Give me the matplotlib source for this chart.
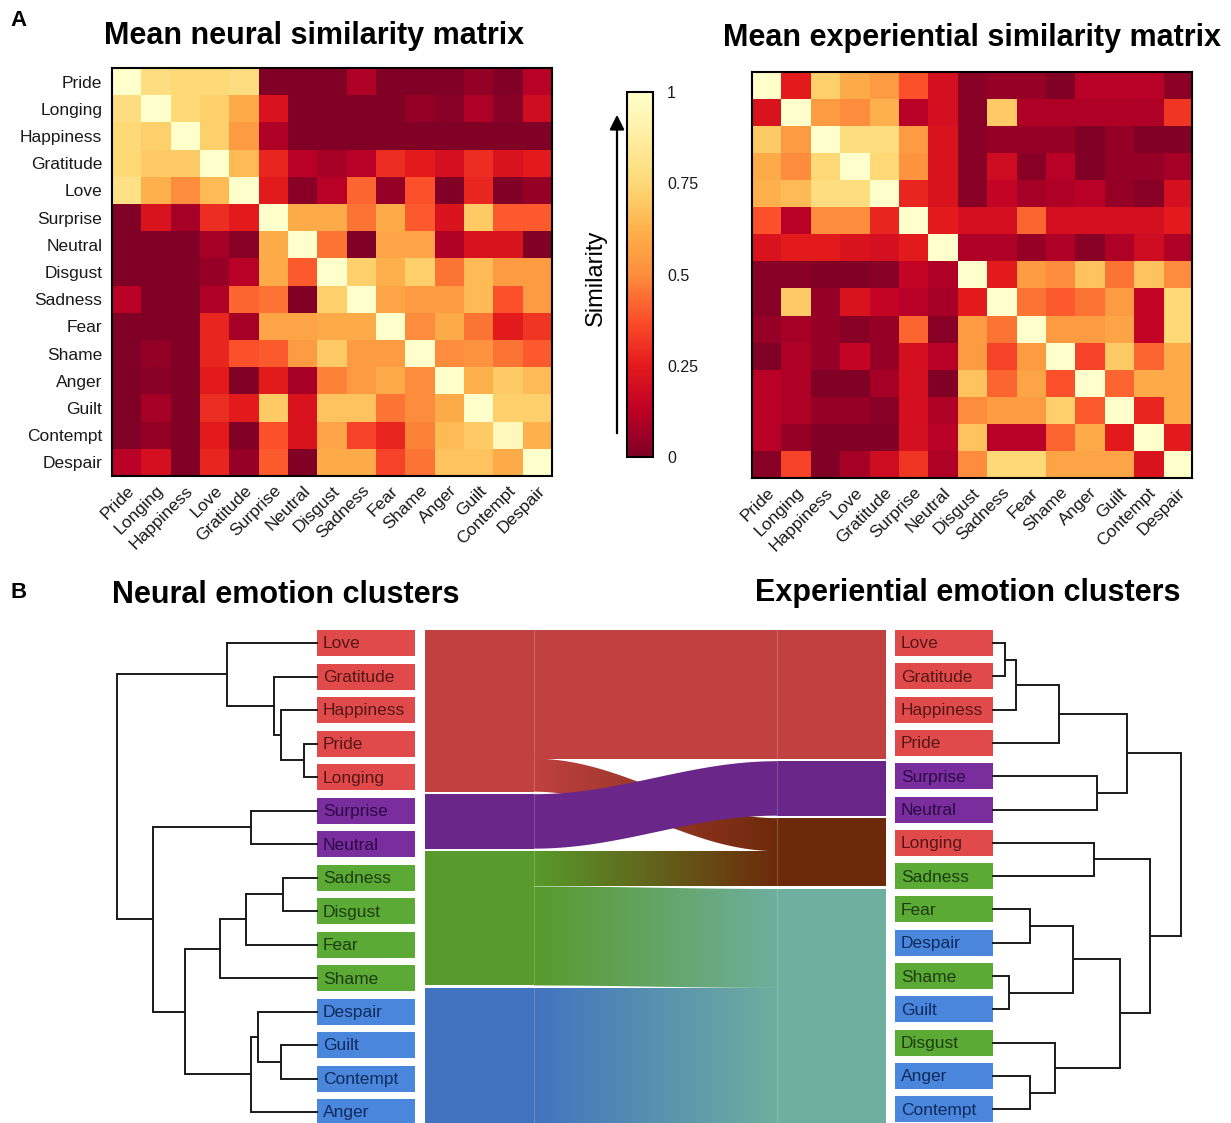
import numpy as np
import matplotlib
matplotlib.use('Agg')
import matplotlib.pyplot as plt
from matplotlib.patches import Rectangle, Polygon
from matplotlib.colors import to_rgb

plt.rcParams['font.family'] = ['Liberation Sans', 'DejaVu Sans']

W, H = 1231, 1123

# ---- panel A data ----
row_labels = ['Pride', 'Longing', 'Happiness', 'Gratitude', 'Love', 'Surprise', 'Neutral',
              'Disgust', 'Sadness', 'Fear', 'Shame', 'Anger', 'Guilt', 'Contempt', 'Despair']
col_labels = ['Pride', 'Longing', 'Happiness', 'Love', 'Gratitude', 'Surprise', 'Neutral',
              'Disgust', 'Sadness', 'Fear', 'Shame', 'Anger', 'Guilt', 'Contempt', 'Despair']

neural = np.array([
    [1.00, 0.78, 0.75, 0.75, 0.78, 0.00, 0.00, 0.00, 0.10, 0.00, 0.00, 0.00, 0.04, 0.00, 0.12],
    [0.78, 1.00, 0.75, 0.72, 0.60, 0.22, 0.00, 0.00, 0.00, 0.00, 0.05, 0.02, 0.10, 0.02, 0.18],
    [0.75, 0.72, 1.00, 0.72, 0.55, 0.10, 0.00, 0.00, 0.00, 0.00, 0.00, 0.00, 0.00, 0.00, 0.00],
    [0.75, 0.70, 0.70, 1.00, 0.65, 0.28, 0.12, 0.08, 0.12, 0.30, 0.25, 0.20, 0.30, 0.22, 0.25],
    [0.80, 0.62, 0.50, 0.65, 1.00, 0.25, 0.02, 0.12, 0.42, 0.05, 0.38, 0.00, 0.28, 0.00, 0.05],
    [0.00, 0.22, 0.08, 0.30, 0.25, 1.00, 0.60, 0.60, 0.45, 0.60, 0.40, 0.22, 0.70, 0.40, 0.40],
    [0.00, 0.00, 0.00, 0.08, 0.02, 0.60, 1.00, 0.45, 0.00, 0.58, 0.58, 0.10, 0.22, 0.22, 0.00],
    [0.00, 0.00, 0.00, 0.05, 0.12, 0.60, 0.40, 1.00, 0.72, 0.62, 0.72, 0.45, 0.65, 0.55, 0.55],
    [0.12, 0.00, 0.00, 0.10, 0.42, 0.45, 0.00, 0.72, 1.00, 0.58, 0.55, 0.55, 0.65, 0.38, 0.55],
    [0.00, 0.00, 0.00, 0.28, 0.08, 0.58, 0.58, 0.60, 0.60, 1.00, 0.50, 0.60, 0.45, 0.25, 0.32],
    [0.00, 0.04, 0.00, 0.28, 0.38, 0.40, 0.55, 0.70, 0.55, 0.55, 1.00, 0.50, 0.52, 0.45, 0.40],
    [0.00, 0.02, 0.00, 0.25, 0.00, 0.25, 0.08, 0.48, 0.55, 0.60, 0.50, 1.00, 0.62, 0.70, 0.65],
    [0.00, 0.08, 0.00, 0.30, 0.25, 0.70, 0.22, 0.68, 0.68, 0.45, 0.50, 0.60, 1.00, 0.72, 0.72],
    [0.00, 0.04, 0.00, 0.25, 0.00, 0.38, 0.22, 0.58, 0.35, 0.28, 0.48, 0.65, 0.70, 0.95, 0.62],
    [0.12, 0.20, 0.00, 0.28, 0.05, 0.40, 0.00, 0.60, 0.60, 0.35, 0.45, 0.68, 0.68, 0.60, 1.00],
])

experiential = np.array([
    [1.00, 0.25, 0.72, 0.60, 0.55, 0.38, 0.20, 0.02, 0.05, 0.05, 0.00, 0.12, 0.12, 0.12, 0.03],
    [0.22, 1.00, 0.55, 0.50, 0.62, 0.12, 0.20, 0.02, 0.70, 0.10, 0.10, 0.10, 0.10, 0.10, 0.32],
    [0.70, 0.55, 1.00, 0.78, 0.78, 0.55, 0.22, 0.02, 0.05, 0.05, 0.05, 0.00, 0.05, 0.00, 0.00],
    [0.60, 0.50, 0.75, 1.00, 0.75, 0.52, 0.22, 0.02, 0.18, 0.02, 0.12, 0.00, 0.05, 0.05, 0.08],
    [0.62, 0.65, 0.78, 0.78, 1.00, 0.28, 0.22, 0.02, 0.15, 0.08, 0.10, 0.12, 0.05, 0.02, 0.20],
    [0.38, 0.12, 0.50, 0.50, 0.28, 1.00, 0.25, 0.20, 0.20, 0.42, 0.20, 0.20, 0.20, 0.20, 0.25],
    [0.22, 0.25, 0.25, 0.22, 0.20, 0.25, 1.00, 0.10, 0.10, 0.05, 0.10, 0.02, 0.10, 0.18, 0.10],
    [0.02, 0.02, 0.00, 0.00, 0.02, 0.15, 0.10, 1.00, 0.25, 0.55, 0.50, 0.68, 0.45, 0.68, 0.50],
    [0.02, 0.70, 0.05, 0.22, 0.15, 0.12, 0.08, 0.25, 1.00, 0.45, 0.40, 0.45, 0.55, 0.15, 0.75],
    [0.05, 0.08, 0.05, 0.02, 0.05, 0.42, 0.02, 0.55, 0.45, 1.00, 0.55, 0.55, 0.58, 0.15, 0.75],
    [0.00, 0.10, 0.05, 0.15, 0.05, 0.20, 0.12, 0.55, 0.35, 0.55, 1.00, 0.35, 0.70, 0.42, 0.60],
    [0.12, 0.10, 0.00, 0.00, 0.08, 0.20, 0.00, 0.68, 0.42, 0.58, 0.38, 1.00, 0.42, 0.60, 0.60],
    [0.12, 0.10, 0.05, 0.05, 0.02, 0.20, 0.10, 0.50, 0.55, 0.55, 0.72, 0.40, 1.00, 0.28, 0.60],
    [0.12, 0.05, 0.00, 0.00, 0.00, 0.20, 0.12, 0.68, 0.12, 0.12, 0.42, 0.60, 0.25, 1.00, 0.25],
    [0.02, 0.35, 0.00, 0.08, 0.18, 0.32, 0.10, 0.50, 0.75, 0.75, 0.58, 0.58, 0.58, 0.22, 1.00],
])

cbar_ticks = [0, 0.25, 0.5, 0.75, 1]
cbar_ticklabels = ['0', '0.25', '0.5', '0.75', '1']

# ---- panel B data ----
left_order = ['Love', 'Gratitude', 'Happiness', 'Pride', 'Longing', 'Surprise', 'Neutral',
              'Sadness', 'Disgust', 'Fear', 'Shame', 'Despair', 'Guilt', 'Contempt', 'Anger']
left_cluster = ['red'] * 5 + ['purple'] * 2 + ['green'] * 4 + ['blue'] * 4
# (child a, child b, height) - new nodes numbered from 15
left_links = [(3, 4, 0.065), (7, 8, 0.17), (2, 15, 0.18), (12, 13, 0.18), (1, 17, 0.215),
              (11, 18, 0.295), (5, 6, 0.33), (20, 14, 0.33), (16, 9, 0.355), (0, 19, 0.45),
              (23, 10, 0.485), (25, 22, 0.66), (21, 26, 0.82), (24, 27, 1.0)]

right_order = ['Love', 'Gratitude', 'Happiness', 'Pride', 'Surprise', 'Neutral', 'Longing',
               'Sadness', 'Fear', 'Despair', 'Shame', 'Guilt', 'Disgust', 'Anger', 'Contempt']
right_cluster = ['red', 'red', 'red', 'red', 'purple', 'purple', 'red', 'green',
                 'green', 'blue', 'green', 'blue', 'green', 'blue', 'blue']
right_links = [(0, 1, 0.06), (10, 11, 0.08), (15, 2, 0.115), (8, 9, 0.185), (13, 14, 0.185),
               (12, 19, 0.31), (17, 3, 0.33), (18, 16, 0.40), (6, 7, 0.505), (4, 5, 0.52),
               (22, 20, 0.635), (21, 24, 0.67), (23, 25, 0.785), (26, 27, 0.94)]

left_bars = ['red', 'purple', 'green', 'blue']
right_bars = ['red', 'purple', 'brown', 'teal']
flow_src = ['red', 'red', 'green', 'green', 'blue', 'purple']
flow_dst = ['red', 'brown', 'brown', 'teal', 'teal', 'purple']
flow_val = [3.9, 1.0, 1.07, 3.0, 4.2, 1.65]

box_colors = {'red': '#E04A4A', 'purple': '#7A2E9E', 'green': '#5BAA35', 'blue': '#4A86DC'}
text_colors = {'red': '#561616', 'purple': '#2B0A45', 'green': '#1D3B0C', 'blue': '#0F2A5C'}
flow_colors = {'red': '#C04140', 'purple': '#6A2689', 'green': '#589A2B', 'blue': '#4273C1',
               'brown': '#6D2A0A', 'teal': '#6EAF9F'}


def frac(x0, y0, x1, y1):
    return [x0 / W, 1 - y1 / H, (x1 - x0) / W, (y1 - y0) / H]


def draw_dendro(ax, links, leaf_y, x_base, direction, scale):
    n = len(leaf_y)
    pos = {i: (x_base, leaf_y[i]) for i in range(n)}
    for k, (a, b, h) in enumerate(links):
        xa, ya = pos[a]
        xb, yb = pos[b]
        xh = x_base + direction * h * scale
        ax.plot([xa, xh, xh, xb], [ya, ya, yb, yb], color='#1a1a1a', lw=1.4,
                solid_joinstyle='miter', zorder=3)
        pos[n + k] = (xh, (ya + yb) / 2)


def draw_boxes(ax, names, clusters, leaf_y, x0, x1):
    for name, c, y in zip(names, clusters, leaf_y):
        ax.add_patch(Rectangle((x0, y - 13), x1 - x0, 26, facecolor=box_colors[c],
                               edgecolor='none', zorder=2))
        ax.text(x0 + 6, y + 1, name, color=text_colors[c], fontsize=12.5,
                va='center', ha='left', zorder=4)


def smooth(t):
    return (1 - np.cos(np.pi * t)) / 2


fig = plt.figure(figsize=(W / 100, H / 100), dpi=100)
ov = fig.add_axes([0, 0, 1, 1], zorder=0)
ov.patch.set_alpha(0)

# ---- panel A ----
cmap = plt.cm.YlOrRd_r
ax1 = fig.add_axes(frac(112, 68, 552, 476), zorder=1)
im = ax1.imshow(neural, cmap=cmap, vmin=0, vmax=1, aspect='auto', interpolation='nearest')
ax1.set_yticks(range(len(row_labels)))
ax1.set_yticklabels(row_labels, fontsize=12.5, color='#1a1a1a')

ax2 = fig.add_axes(frac(752, 72, 1192, 478), zorder=1)
ax2.imshow(experiential, cmap=cmap, vmin=0, vmax=1, aspect='auto', interpolation='nearest')
ax2.set_yticks([])

for ax in (ax1, ax2):
    ax.set_xticks(range(len(col_labels)))
    ax.set_xticklabels(col_labels, rotation=45, ha='right', va='top',
                       rotation_mode='anchor', fontsize=12.5, color='#1a1a1a')
    ax.tick_params(length=0, pad=5)
    ax.tick_params(axis='y', pad=7)
    for s in ax.spines.values():
        s.set_linewidth(1.5)

cax = fig.add_axes(frac(627, 92, 653, 457), zorder=1)
cb = fig.colorbar(im, cax=cax, ticks=cbar_ticks)
cb.set_ticklabels(cbar_ticklabels)
cax.tick_params(length=0, pad=10, labelsize=11.5, colors='#1a1a1a')
cb.outline.set_linewidth(1.5)

ov.annotate('', xy=(617, 112), xytext=(617, 436),
            arrowprops=dict(arrowstyle='-|>', lw=1.6, color='black', mutation_scale=22))
ov.text(596, 278, 'Similarity', rotation=90, fontsize=17, ha='center', va='center')

ov.text(10, 20, 'A', fontsize=16, fontweight='bold', ha='left', va='center')
ov.text(314, 36, 'Mean neural similarity matrix', fontsize=22, fontweight='bold',
        ha='center', va='center')
ov.text(972, 38, 'Mean experiential similarity matrix', fontsize=22, fontweight='bold',
        ha='center', va='center')

# ---- panel B ----
ov.text(10, 593, 'B', fontsize=16, fontweight='bold', ha='left', va='center')
ov.text(286, 595, 'Neural emotion clusters', fontsize=22, fontweight='bold',
        ha='center', va='center')
ov.text(968, 593, 'Experiential emotion clusters', fontsize=22, fontweight='bold',
        ha='center', va='center')

left_y = [643 + i * 33.5 for i in range(len(left_order))]
right_y = [643 + i * 33.3 for i in range(len(right_order))]
draw_boxes(ov, left_order, left_cluster, left_y, 317, 415)
draw_boxes(ov, right_order, right_cluster, right_y, 895, 993)
draw_dendro(ov, left_links, left_y, 317, -1, 200)
draw_dendro(ov, right_links, right_y, 993, 1, 200)

# sankey
unit, gap, top = 33, 2.5, 630
xl0, xl1, xr0, xr1 = 425, 534, 777, 886

left_pos, right_pos = {}, {}
y = top
for c in left_bars:
    idx = [i for i in range(len(flow_src)) if flow_src[i] == c]
    y0 = y
    for i in idx:
        left_pos[i] = (y, y + flow_val[i] * unit)
        y += flow_val[i] * unit
    ov.add_patch(Rectangle((xl0, y0), xl1 - xl0, y - y0, facecolor=flow_colors[c],
                           edgecolor='none', zorder=2))
    ov.plot([xl1, xl1], [y0, y], color='white', alpha=0.18, lw=0.8, zorder=5)
    y += gap

y = top
for c in right_bars:
    idx = [i for i in range(len(flow_dst)) if flow_dst[i] == c]
    idx.sort(key=lambda i: left_bars.index(flow_src[i]))
    y0 = y
    for i in idx:
        right_pos[i] = (y, y + flow_val[i] * unit)
        y += flow_val[i] * unit
    ov.add_patch(Rectangle((xr0, y0), xr1 - xr0, y - y0, facecolor=flow_colors[c],
                           edgecolor='none', zorder=2))
    ov.plot([xr0, xr0], [y0, y], color='white', alpha=0.18, lw=0.8, zorder=5)
    y += gap

xs = np.linspace(xl1, xr0, 150)
tt = smooth((xs - xl1) / (xr0 - xl1))
for i in range(len(flow_src)):
    (a0, a1), (b0, b1) = left_pos[i], right_pos[i]
    up = a0 + (b0 - a0) * tt
    lo = a1 + (b1 - a1) * tt
    verts = np.column_stack([np.concatenate([xs, xs[::-1]]), np.concatenate([up, lo[::-1]])])
    c0, c1 = np.array(to_rgb(flow_colors[flow_src[i]])), np.array(to_rgb(flow_colors[flow_dst[i]]))
    if flow_src[i] == flow_dst[i]:
        ov.add_patch(Polygon(verts, closed=True, facecolor=flow_colors[flow_src[i]],
                             edgecolor='none', zorder=2 + 0.1 * i))
    else:
        poly = Polygon(verts, closed=True, facecolor='none', edgecolor='none')
        ov.add_patch(poly)
        g = np.linspace(0, 1, 256)[:, None]
        img = ((1 - g) * c0 + g * c1)[None, :, :]
        gi = ov.imshow(img, extent=[xl1, xr0, max(a1, b1), min(a0, b0)], aspect='auto',
                       interpolation='bilinear', zorder=2 + 0.1 * i)
        gi.set_clip_path(poly)

ov.set_xlim(0, W)
ov.set_ylim(H, 0)
ov.axis('off')

fig.savefig('out.png', dpi=100)
